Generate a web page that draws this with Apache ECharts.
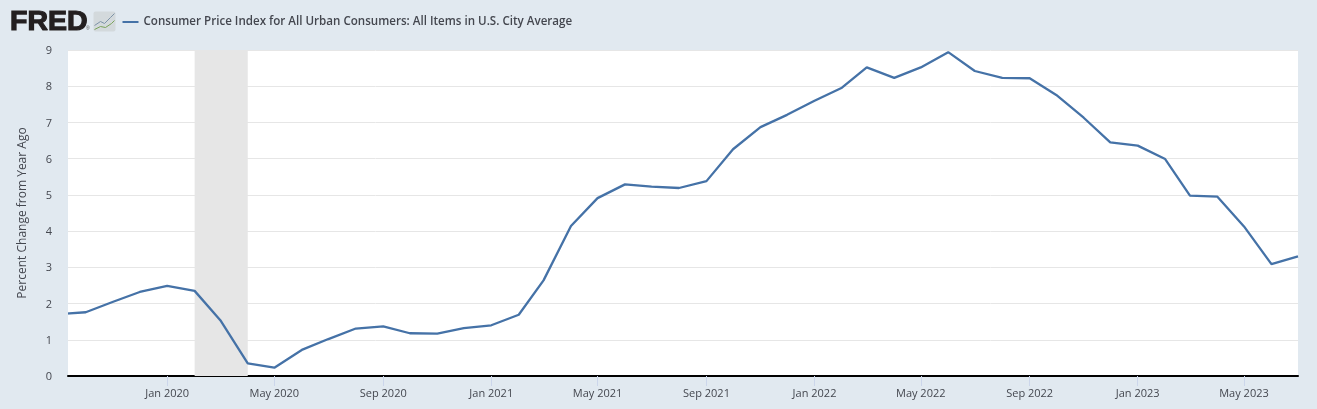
<!DOCTYPE html>
<html><head><meta charset="utf-8">
<style>html,body{margin:0;padding:0;background:#e1e9f0}#c{width:1317px;height:409px}</style>
<script src="https://cdn.jsdelivr.net/npm/echarts@6/dist/echarts.min.js"></script>
</head><body><div id="c"></div>
<script>
const dates=["2019-09-01","2019-10-01","2019-11-01","2019-12-01","2020-01-01","2020-02-01","2020-03-01","2020-04-01","2020-05-01","2020-06-01","2020-07-01","2020-08-01","2020-09-01","2020-10-01","2020-11-01","2020-12-01","2021-01-01","2021-02-01","2021-03-01","2021-04-01","2021-05-01","2021-06-01","2021-07-01","2021-08-01","2021-09-01","2021-10-01","2021-11-01","2021-12-01","2022-01-01","2022-02-01","2022-03-01","2022-04-01","2022-05-01","2022-06-01","2022-07-01","2022-08-01","2022-09-01","2022-10-01","2022-11-01","2022-12-01","2023-01-01","2023-02-01","2023-03-01","2023-04-01","2023-05-01","2023-06-01","2023-07-01"];
const values=[1.71,1.76,2.05,2.32,2.49,2.35,1.54,0.35,0.23,0.72,1.02,1.31,1.37,1.18,1.17,1.32,1.40,1.69,2.64,4.14,4.91,5.29,5.23,5.19,5.38,6.26,6.87,7.21,7.60,7.96,8.52,8.23,8.52,8.94,8.42,8.23,8.22,7.76,7.13,6.45,6.36,5.99,4.98,4.95,4.13,3.09,3.30];
const tickDates=["2020-01-01","2020-05-01","2020-09-01","2021-01-01","2021-05-01","2021-09-01","2022-01-01","2022-05-01","2022-09-01","2023-01-01","2023-05-01"];
const months=["Jan","Feb","Mar","Apr","May","Jun","Jul","Aug","Sep","Oct","Nov","Dec"];
const seriesName="Consumer Price Index for All Urban Consumers: All Items in U.S. City Average";
const yAxisName="Percent Change from Year Ago";
const recession=["2020-02-01","2020-04-01"];
const font='"Open Sans"';
const bg='#e1e9f0';
const ts=s=>Date.parse(s+"T00:00:00Z");
const chart=echarts.init(document.getElementById('c'),null,{renderer:'canvas'});
chart.setOption({
 animation:false,
 backgroundColor:bg,
 grid:{left:68,right:19,top:50,bottom:33,backgroundColor:'#ffffff',show:true,borderWidth:0},
 legend:{show:true,left:117.5,top:11,itemWidth:16,itemHeight:2,itemGap:5,icon:'rect',
   textStyle:{fontFamily:font,fontSize:11.6,fontWeight:600,color:'#44474f'},data:[seriesName]},
 xAxis:{type:'value',min:ts("2019-09-11"),max:ts("2023-07-01"),scale:true,
   axisLine:{show:true,onZero:false,lineStyle:{color:'#000',width:2}},
   axisTick:{show:true,length:10,lineStyle:{color:'#ccd6eb',width:1},customValues:tickDates.map(ts)},
   axisLabel:{show:true,margin:12,fontFamily:font,fontSize:11,color:'#44474f',hideOverlap:false,
     customValues:tickDates.map(ts),
     formatter:v=>{const d=new Date(v);return months[d.getUTCMonth()]+' '+d.getUTCFullYear();}},
   splitLine:{show:false}},
 yAxis:{type:'value',min:0,max:9,interval:1,
   name:yAxisName,nameLocation:'middle',nameGap:39,
   nameTextStyle:{fontFamily:font,fontSize:12,color:'#44474f'},
   axisLine:{show:false},axisTick:{show:false},
   axisLabel:{margin:16,formatter:'{a|{value}}',
     rich:{a:{fontFamily:font,fontSize:11,color:'#44474f',padding:[2,0,0,0]}}},
   splitLine:{lineStyle:{color:'#e6e6e6',width:1}}},
 series:[{name:seriesName,type:'line',data:dates.map((d,i)=>[ts(d),values[i]]),
   showSymbol:false,symbol:'none',clip:true,
   lineStyle:{color:'#4572a7',width:2.3},itemStyle:{color:'#4572a7'},
   markArea:{silent:true,itemStyle:{color:'#e6e6e6'},data:[[{xAxis:ts(recession[0])},{xAxis:ts(recession[1])}]]}}],
 graphic:[
  {type:'rect',z:100,shape:{x:60,y:50,width:8,height:325},style:{fill:bg}},
  {type:'text',left:9.5,top:7,style:{text:'FRED',fontFamily:'"Liberation Sans"',fontSize:28.5,fontWeight:'bold',fill:'#231f20',stroke:'#231f20',lineWidth:1.2}},
  {type:'text',left:86,top:26,style:{text:'®',fontFamily:'"Liberation Sans"',fontSize:5,fill:'#555'}},
  {type:'group',left:92,top:11,children:[
    {type:'rect',shape:{x:0,y:0,width:22,height:20,r:2},style:{fill:'#d3d9dc'}},
    {type:'polyline',shape:{points:[[1,14],[7,10],[11,12],[17,6],[21,2]]},style:{fill:'none',stroke:'#7d93a8',lineWidth:1}},
    {type:'polyline',shape:{points:[[1,18],[7,15],[12,16],[18,12],[21,9]]},style:{fill:'none',stroke:'#7aa35a',lineWidth:1}}
  ]}
 ]
});
</script></body></html>
